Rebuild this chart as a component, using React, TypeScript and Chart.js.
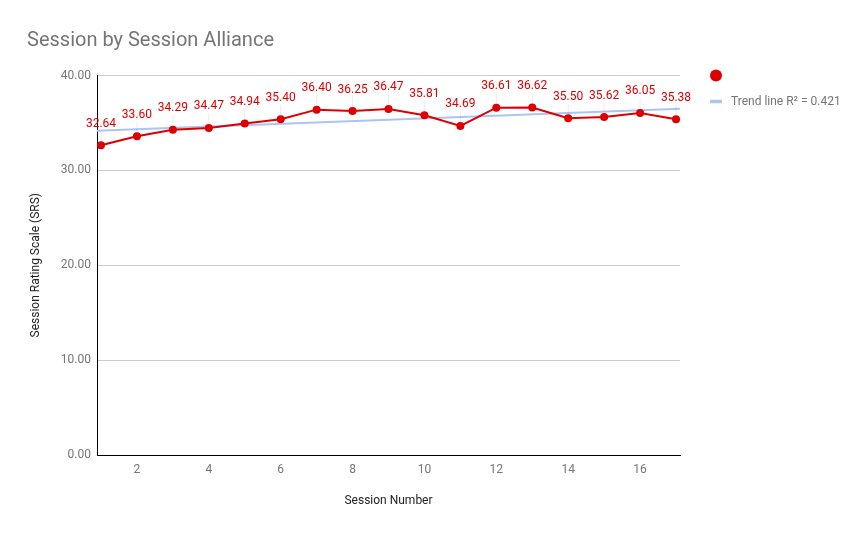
import React, { useEffect, useRef } from "react";
import { Chart, registerables } from "chart.js";

Chart.register(...registerables);

const TITLE = "Session by Session Alliance";
const X_TITLE = "Session Number";
const Y_TITLE = "Session Rating Scale (SRS)";
const sessions = [1, 2, 3, 4, 5, 6, 7, 8, 9, 10, 11, 12, 13, 14, 15, 16, 17];
const srs = [32.64, 33.6, 34.29, 34.47, 34.94, 35.4, 36.4, 36.25, 36.47, 35.81, 34.69, 36.61, 36.62, 35.5, 35.62, 36.05, 35.38];
const xTicks = [2, 4, 6, 8, 10, 12, 14, 16];
const yTicks = [0, 10, 20, 30, 40];
const X_MIN = 0.889;
const X_MAX = 17.111;

const RED = "#dd0000";
const TREND = "#a9c4f5";
const GRAY = "#757575";
const FONT = "Roboto";

function regression(xs: number[], ys: number[]) {
  const n = xs.length;
  const mx = xs.reduce((a, b) => a + b, 0) / n;
  const my = ys.reduce((a, b) => a + b, 0) / n;
  let sxy = 0, sxx = 0, syy = 0;
  for (let i = 0; i < n; i++) {
    sxy += (xs[i] - mx) * (ys[i] - my);
    sxx += (xs[i] - mx) ** 2;
    syy += (ys[i] - my) ** 2;
  }
  const slope = sxy / sxx;
  return { slope, intercept: my - slope * mx, r2: (sxy * sxy) / (sxx * syy) };
}

export default function App() {
  const ref = useRef<HTMLCanvasElement>(null);
  useEffect(() => {
    const reg = regression(sessions, srs);
    const trendLabel = `Trend line R\u00B2 = ${reg.r2.toFixed(3)}`;
    const overlay = {
      id: "overlay",
      afterDatasetsDraw(chart: any) {
        const ctx = chart.ctx;
        const meta = chart.getDatasetMeta(0);
        ctx.save();
        ctx.font = `12px ${FONT}`;
        ctx.textAlign = "center";
        ctx.textBaseline = "middle";
        meta.data.forEach((pt: any, i: number) => {
          const ly = pt.y - 21.5;
          ctx.strokeStyle = "rgba(0,0,0,0.08)";
          ctx.lineWidth = 1;
          ctx.beginPath();
          ctx.moveTo(pt.x, ly + 7);
          ctx.lineTo(pt.x, pt.y - 4);
          ctx.stroke();
          ctx.fillStyle = RED;
          ctx.fillText(srs[i].toFixed(2), pt.x, ly);
        });
        // legend
        ctx.fillStyle = RED;
        ctx.beginPath();
        ctx.arc(716, 75.5, 6, 0, Math.PI * 2);
        ctx.fill();
        ctx.strokeStyle = TREND;
        ctx.lineWidth = 3.5;
        ctx.beginPath();
        ctx.moveTo(710, 101.5);
        ctx.lineTo(722, 101.5);
        ctx.stroke();
        ctx.fillStyle = GRAY;
        ctx.textAlign = "left";
        ctx.fillText(trendLabel, 731, 101.5);
        ctx.restore();
      },
    };
    const chart = new Chart(ref.current!, {
      type: "line",
      data: {
        datasets: [
          {
            label: "",
            data: sessions.map((s, i) => ({ x: s, y: srs[i] })),
            borderColor: RED,
            backgroundColor: RED,
            borderWidth: 2,
            pointRadius: 4,
            pointBorderWidth: 0,
            pointBackgroundColor: RED,
            tension: 0,
          },
          {
            label: trendLabel,
            data: [X_MIN, X_MAX].map((x) => ({ x, y: reg.intercept + reg.slope * x })),
            borderColor: TREND,
            borderWidth: 2,
            pointRadius: 0,
            tension: 0,
          },
        ],
      },
      options: {
        responsive: false,
        animation: false,
        layout: { padding: { left: 27, right: 188, top: 0, bottom: 0 } },
        plugins: {
          legend: { display: false },
          tooltip: { enabled: false },
          title: {
            display: true,
            text: TITLE,
            align: "start",
            color: GRAY,
            font: { family: FONT, size: 20, weight: "normal" },
            padding: { top: 29, bottom: 22.5 },
          },
        },
        scales: {
          x: {
            type: "linear",
            min: X_MIN,
            max: X_MAX,
            afterBuildTicks: (s: any) => { s.ticks = xTicks.map((v) => ({ value: v })); },
            afterFit: (s: any) => { s.height = 81; },
            grid: { display: false, drawTicks: false },
            border: { display: true, color: "#000", width: 1 },
            ticks: { color: GRAY, font: { family: FONT, size: 12 }, padding: 8, callback: (v: any) => String(v) },
            title: {
              display: true,
              text: X_TITLE,
              color: "#222",
              font: { family: FONT, size: 12 },
              padding: { top: 0, bottom: 28 },
            },
          },
          y: {
            type: "linear",
            min: 0,
            max: 40,
            afterBuildTicks: (s: any) => { s.ticks = yTicks.map((v) => ({ value: v })); },
            afterFit: (s: any) => { s.width = 70; },
            grid: {
              drawTicks: false,
              color: (c: any) => (c.tick && c.tick.value === 0 ? "#000" : "#cccccc"),
            },
            border: { display: true, color: "#000", width: 1 },
            ticks: { color: GRAY, font: { family: FONT, size: 12 }, padding: 6, callback: (v: any) => Number(v).toFixed(2) },
            title: {
              display: true,
              text: Y_TITLE,
              color: "#222",
              font: { family: FONT, size: 12 },
              padding: { top: 2, bottom: 0 },
            },
          },
        },
      },
      plugins: [overlay],
    } as any);
    return () => chart.destroy();
  }, []);
  return (
    <div style={{ position: "absolute", left: 0, top: 0, width: 868, height: 536, background: "#fff" }}>
      <canvas ref={ref} width={868} height={536} style={{ display: "block" }} />
    </div>
  );
}
